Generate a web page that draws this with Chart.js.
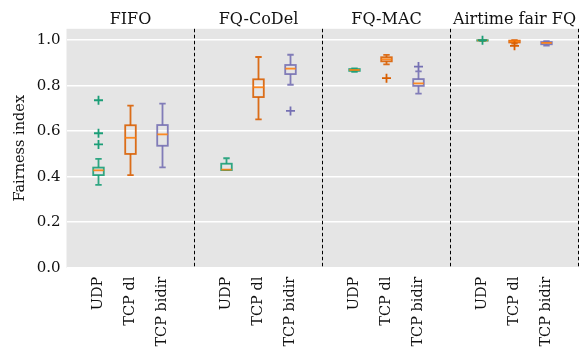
<!DOCTYPE html>
<html>
<head>
<meta charset="utf-8">
<script src="https://cdn.jsdelivr.net/npm/chart.js@4/dist/chart.umd.min.js"></script>
<style>
  html, body { margin: 0; padding: 0; background: #ffffff; }
  #wrap { width: 581px; height: 350px; position: relative; }
</style>
</head>
<body>
<div id="wrap"><canvas id="c" width="581" height="350"></canvas></div>
<script>
// ---- Data ----
const groups = ['FIFO', 'FQ-CoDel', 'FQ-MAC', 'Airtime fair FQ'];
const categories = ['UDP', 'TCP dl', 'TCP bidir'];
const categoryColors = ['#1b9e77', '#d95f02', '#7570b3'];
const medianColor = '#ff7f0e';
const yTicks = [0.0, 0.2, 0.4, 0.6, 0.8, 1.0];

// one entry per (group, category), ordered group by group: UDP, TCP dl, TCP bidir
const whiskerLow  = [0.364, 0.407, 0.441,  0.429, 0.652, 0.804,  0.861, 0.894, 0.765,  0.996, 0.985, 0.976];
const quartile1   = [0.407, 0.500, 0.536,  0.429, 0.750, 0.851,  0.865, 0.907, 0.799,  0.998, 0.990, 0.982];
const median      = [0.428, 0.571, 0.586,  0.431, 0.793, 0.875,  0.869, 0.916, 0.810,  0.999, 0.995, 0.988];
const quartile3   = [0.440, 0.626, 0.627,  0.457, 0.828, 0.891,  0.873, 0.925, 0.829,  1.000, 0.998, 0.992];
const whiskerHigh = [0.478, 0.712, 0.721,  0.481, 0.926, 0.936,  0.876, 0.935, 0.863,  1.000, 1.000, 0.996];
const outliers    = [[0.736, 0.591, 0.542], [], [],
                     [], [], [0.689],
                     [], [0.833], [0.884],
                     [1.0], [0.975], []];

// ---- helpers ----
const PANEL = 4; // x units per panel
function xPos(i) { return Math.floor(i / 3) * PANEL + (i % 3) + 1; }
const tickPositions = whiskerLow.map((_, i) => xPos(i));
const tickLabelOf = {};
tickPositions.forEach((p, i) => { tickLabelOf[p] = categories[i % 3]; });

const outlierDatasets = categories.map((cat, c) => {
  const pts = [];
  outliers.forEach((arr, i) => {
    if (i % 3 === c) arr.forEach(v => pts.push({ x: xPos(i), y: v }));
  });
  return {
    label: cat,
    data: pts,
    pointStyle: 'cross',
    pointRadius: 4.5,
    pointHoverRadius: 4.5,
    borderWidth: 1.8,
    borderColor: categoryColors[c],
    backgroundColor: categoryColors[c],
    showLine: false
  };
});

const FONT = "'DejaVu Serif', serif";

const panelPlugin = {
  id: 'panels',
  beforeDraw(chart) {
    const { ctx, chartArea: a } = chart;
    ctx.save();
    ctx.fillStyle = '#e5e5e5';
    ctx.fillRect(a.left, a.top, a.right - a.left, a.bottom - a.top);
    ctx.restore();
  },
  beforeDatasetsDraw(chart) {
    const { ctx, scales: { x, y } } = chart;
    const halfBox = 0.165, halfCap = 0.1;
    ctx.save();
    ctx.lineCap = 'butt';
    whiskerLow.forEach((lo, i) => {
      const c = i % 3;
      const cx = x.getPixelForValue(xPos(i));
      const bl = x.getPixelForValue(xPos(i) - halfBox), br = x.getPixelForValue(xPos(i) + halfBox);
      const cl = x.getPixelForValue(xPos(i) - halfCap), cr = x.getPixelForValue(xPos(i) + halfCap);
      const yLo = y.getPixelForValue(lo), yHi = y.getPixelForValue(whiskerHigh[i]);
      const yQ1 = y.getPixelForValue(quartile1[i]), yQ3 = y.getPixelForValue(quartile3[i]);
      const yMed = y.getPixelForValue(median[i]);
      ctx.strokeStyle = categoryColors[c];
      ctx.globalAlpha = 0.9;
      ctx.lineWidth = 1.8;
      ctx.beginPath();
      ctx.moveTo(cx, yQ1); ctx.lineTo(cx, yLo);
      ctx.moveTo(cx, yQ3); ctx.lineTo(cx, yHi);
      ctx.moveTo(cl, yLo); ctx.lineTo(cr, yLo);
      ctx.moveTo(cl, yHi); ctx.lineTo(cr, yHi);
      ctx.stroke();
      ctx.strokeRect(bl, yQ3, br - bl, yQ1 - yQ3);
      ctx.strokeStyle = medianColor;
      ctx.beginPath();
      ctx.moveTo(bl, yMed); ctx.lineTo(br, yMed);
      ctx.stroke();
    });
    ctx.restore();
  },
  afterDraw(chart) {
    const { ctx, chartArea: a, scales: { x } } = chart;
    ctx.save();
    ctx.strokeStyle = '#000000';
    ctx.lineWidth = 1;
    ctx.setLineDash([3.5, 2.5]);
    for (let g = 1; g <= groups.length; g++) {
      const px = Math.round(x.getPixelForValue(g * PANEL)) - 0.5;
      ctx.beginPath();
      ctx.moveTo(px, a.top);
      ctx.lineTo(px, a.bottom);
      ctx.stroke();
    }
    ctx.setLineDash([]);
    ctx.fillStyle = '#111111';
    ctx.font = "16px " + FONT;
    ctx.textAlign = 'center';
    ctx.textBaseline = 'alphabetic';
    groups.forEach((g, k) => {
      const px = x.getPixelForValue(k * PANEL + PANEL / 2);
      ctx.fillText(g, px, 24);
    });
    ctx.restore();
  }
};

new Chart(document.getElementById('c'), {
  type: 'scatter',
  data: { datasets: outlierDatasets },
  options: {
    responsive: false,
    animation: false,
    devicePixelRatio: 1,
    layout: { autoPadding: false, padding: { left: 0, right: 2.5, top: 28.8, bottom: 0 } },
    plugins: { legend: { display: false }, tooltip: { enabled: false } },
    scales: {
      x: {
        type: 'linear',
        min: 0,
        max: groups.length * PANEL,
        afterBuildTicks(scale) { scale.ticks = tickPositions.map(v => ({ value: v })); },
        afterFit(scale) { scale.height = 82.3; scale.paddingLeft = 0; scale.paddingRight = 0; },
        grid: { display: false },
        border: { display: false },
        ticks: {
          autoSkip: false,
          minRotation: 90,
          maxRotation: 90,
          padding: 1,
          color: '#111111',
          font: { family: FONT, size: 14.5 },
          callback: (v) => tickLabelOf[v] || ''
        }
      },
      y: {
        min: 0,
        max: 1.05,
        afterBuildTicks(scale) { scale.ticks = yTicks.map(v => ({ value: v })); },
        afterFit(scale) { scale.width = 66.5; scale.paddingTop = 0; scale.paddingBottom = 0; },
        grid: { color: '#ffffff', lineWidth: 1.5, drawTicks: false },
        border: { display: false },
        ticks: {
          padding: 6,
          color: '#111111',
          font: { family: FONT, size: 15 },
          callback: (v) => v.toFixed(1)
        },
        title: {
          display: true,
          text: 'Fairness index',
          color: '#111111',
          font: { family: FONT, size: 14.5 },
          padding: { top: 12, bottom: 0 }
        }
      }
    }
  },
  plugins: [panelPlugin]
});
</script>
</body>
</html>
